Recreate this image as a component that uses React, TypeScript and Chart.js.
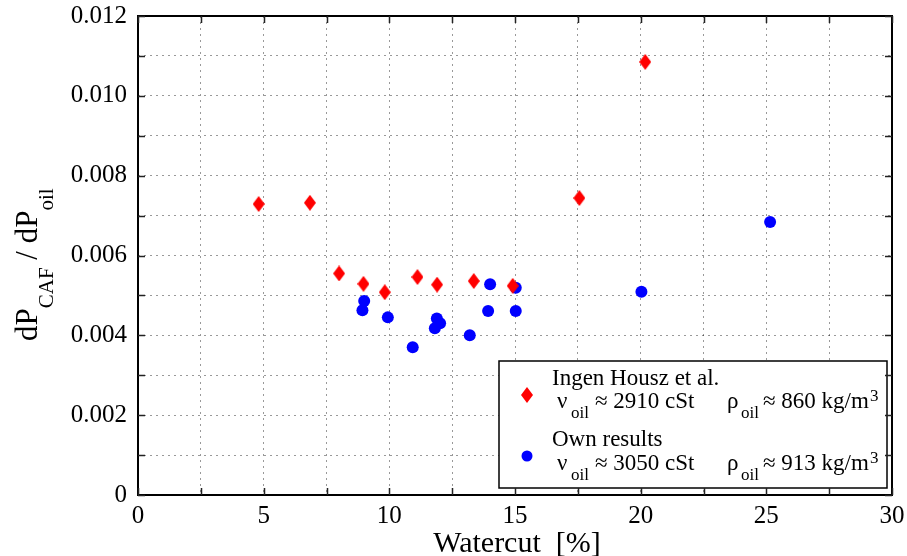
import React, { useEffect, useRef } from 'react';
import { Chart, registerables } from 'chart.js';

Chart.register(...registerables);

// ---- Data ----
const ingenWatercut = [4.8, 6.84, 8.0, 8.97, 9.82, 11.12, 11.9, 13.36, 14.91, 17.56, 20.18];
const ingenRatio = [0.00729, 0.00732, 0.00555, 0.00529, 0.00508, 0.00546, 0.00527, 0.00536, 0.00524, 0.00744, 0.01085];

const ownWatercut = [8.93, 9.0, 9.94, 10.93, 11.81, 11.89, 12.02, 13.2, 13.93, 14.01, 15.03, 15.03, 20.03, 25.15];
const ownRatio = [0.00463, 0.00486, 0.00445, 0.0037, 0.00418, 0.00442, 0.0043, 0.004, 0.00461, 0.00528, 0.00461, 0.00519, 0.00509, 0.00684];

const xTickValues = [0, 5, 10, 15, 20, 25, 30];
const xTickLabels = ['0', '5', '10', '15', '20', '25', '30'];
const yTickValues = [0, 0.002, 0.004, 0.006, 0.008, 0.01, 0.012];
const yTickLabels = ['0', '0.002', '0.004', '0.006', '0.008', '0.010', '0.012'];

const legendTitles = ['Ingen Housz et al.', 'Own results'];
const legendNu = ['2910', '3050'];
const legendRho = ['860', '913'];

const FONT = "'Liberation Serif', 'Times New Roman', serif";
const RED = '#ff0000';
const BLUE = '#0000ff';

function makeDiamond(w: number, h: number, color: string): HTMLCanvasElement {
  const c = document.createElement('canvas');
  c.width = w;
  c.height = h;
  const ctx = c.getContext('2d')!;
  ctx.fillStyle = color;
  ctx.beginPath();
  ctx.moveTo(w / 2, 0);
  ctx.lineTo(w, h / 2);
  ctx.lineTo(w / 2, h);
  ctx.lineTo(0, h / 2);
  ctx.closePath();
  ctx.fill();
  return c;
}

function drawDiamond(ctx: CanvasRenderingContext2D, cx: number, cy: number, w: number, h: number, color: string) {
  ctx.fillStyle = color;
  ctx.beginPath();
  ctx.moveTo(cx, cy - h / 2);
  ctx.lineTo(cx + w / 2, cy);
  ctx.lineTo(cx, cy + h / 2);
  ctx.lineTo(cx - w / 2, cy);
  ctx.closePath();
  ctx.fill();
}

const decorPlugin = {
  id: 'decor',
  afterDraw(chart: any) {
    const ctx: CanvasRenderingContext2D = chart.ctx;
    const { left, right, top, bottom } = chart.chartArea;
    const xs = chart.scales.x;
    const ys = chart.scales.y;
    ctx.save();

    // Legend box
    const lx = 499, ly = 361, lw = 388, lh = 127;
    ctx.fillStyle = '#ffffff';
    ctx.fillRect(lx, ly, lw, lh);
    ctx.strokeStyle = '#000';
    ctx.lineWidth = 1.5;
    ctx.strokeRect(lx, ly, lw, lh);

    const rows = [
      { title: legendTitles[0], nu: legendNu[0], rho: legendRho[0], yTitle: 385, yLine: 408, marker: 'diamond', my: 395 },
      { title: legendTitles[1], nu: legendNu[1], rho: legendRho[1], yTitle: 446, yLine: 470, marker: 'circle', my: 456 },
    ];
    ctx.textAlign = 'left';
    ctx.textBaseline = 'alphabetic';
    ctx.fillStyle = '#000';
    for (const r of rows) {
      if (r.marker === 'diamond') {
        drawDiamond(ctx, 527, r.my, 12, 16, RED);
      } else {
        ctx.fillStyle = BLUE;
        ctx.beginPath();
        ctx.arc(527, r.my, 5.5, 0, Math.PI * 2);
        ctx.fill();
      }
      ctx.fillStyle = '#000';
      ctx.font = `23px ${FONT}`;
      ctx.fillText(r.title, 552, r.yTitle);
      ctx.fillText('ν', 557, r.yLine);
      ctx.font = `17px ${FONT}`;
      ctx.fillText('oil', 571, r.yLine + 10);
      ctx.font = `23px ${FONT}`;
      ctx.fillText(`≈ ${r.nu} cSt`, 595, r.yLine);
      ctx.fillText('ρ', 727, r.yLine);
      ctx.font = `17px ${FONT}`;
      ctx.fillText('oil', 741, r.yLine + 10);
      ctx.font = `23px ${FONT}`;
      const t = `≈ ${r.rho} kg/m`;
      ctx.fillText(t, 763, r.yLine);
      const tw = ctx.measureText(t).width;
      ctx.font = `17px ${FONT}`;
      ctx.fillText('3', 763 + tw + 1, r.yLine - 7);
    }

    // Frame
    ctx.strokeStyle = '#000';
    ctx.lineWidth = 2;
    ctx.strokeRect(left, top, right - left, bottom - top);

    // Inner ticks on all four sides
    ctx.strokeStyle = '#222';
    ctx.lineWidth = 1.5;
    const tl = 7;
    ctx.beginPath();
    for (const t of xs.ticks) {
      const px = Math.round(xs.getPixelForValue(t.value)) + 0.5;
      ctx.moveTo(px, bottom);
      ctx.lineTo(px, bottom - tl);
      ctx.moveTo(px, top);
      ctx.lineTo(px, top + tl);
    }
    for (const t of ys.ticks) {
      const py = Math.round(ys.getPixelForValue(t.value)) + 0.5;
      ctx.moveTo(left, py);
      ctx.lineTo(left + tl, py);
      ctx.moveTo(right, py);
      ctx.lineTo(right - tl, py);
    }
    ctx.stroke();

    // X title
    ctx.fillStyle = '#000';
    ctx.font = `30px ${FONT}`;
    ctx.textAlign = 'center';
    ctx.fillText('Watercut  [%]', (left + right) / 2 + 2, 552);

    // Y title (rotated, with subscripts)
    ctx.save();
    ctx.translate(37, 341);
    ctx.rotate(-Math.PI / 2);
    ctx.textAlign = 'left';
    let x = 0;
    const seg = (text: string, size: number, dy: number) => {
      ctx.font = `${size}px ${FONT}`;
      ctx.fillText(text, x, dy);
      x += ctx.measureText(text).width;
    };
    seg('dP', 31, 0);
    seg('CAF', 21, 16);
    seg(' / dP', 31, 0);
    seg('oil', 21, 16);
    ctx.restore();

    ctx.restore();
  },
};

export default function App() {
  const ref = useRef<HTMLCanvasElement | null>(null);

  useEffect(() => {
    document.body.style.margin = '0';
    const canvas = ref.current!;
    const diamond = makeDiamond(12, 16, RED);
    const chart = new Chart(canvas, {
      type: 'scatter',
      data: {
        datasets: [
          {
            label: legendTitles[0],
            data: ingenWatercut.map((x, i) => ({ x, y: ingenRatio[i] })),
            pointStyle: diamond as any,
            pointRadius: 8,
            backgroundColor: RED,
            borderColor: RED,
          },
          {
            label: legendTitles[1],
            data: ownWatercut.map((x, i) => ({ x, y: ownRatio[i] })),
            pointStyle: 'circle',
            pointRadius: 6,
            borderWidth: 0,
            backgroundColor: BLUE,
            borderColor: BLUE,
          },
        ],
      },
      options: {
        animation: false,
        responsive: false,
        maintainAspectRatio: false,
        layout: { padding: { top: 16, right: 15, left: 0, bottom: 0 } },
        plugins: {
          legend: { display: false },
          tooltip: { enabled: false },
        },
        scales: {
          x: {
            type: 'linear',
            min: 0,
            max: 30,
            ticks: {
              stepSize: 2.5,
              autoSkip: false,
              maxRotation: 0,
              padding: 6,
              color: '#000',
              font: { family: FONT, size: 25 },
              callback: (v: any) => {
                const idx = xTickValues.findIndex((t) => Math.abs(t - Number(v)) < 1e-9);
                return idx >= 0 ? xTickLabels[idx] : '';
              },
            },
            grid: { color: 'rgba(0,0,0,0.4)', lineWidth: 1, drawTicks: false },
            border: { display: false, dash: [2, 4] },
            afterFit: (s: any) => {
              s.height = 61;
              s.paddingLeft = 0;
              s.paddingRight = 0;
            },
          },
          y: {
            type: 'linear',
            min: 0,
            max: 0.012,
            ticks: {
              stepSize: 0.001,
              autoSkip: false,
              padding: 11,
              color: '#000',
              font: { family: FONT, size: 25 },
              callback: (v: any) => {
                const idx = yTickValues.findIndex((t) => Math.abs(t - Number(v)) < 1e-9);
                return idx >= 0 ? yTickLabels[idx] : '';
              },
            },
            grid: { color: 'rgba(0,0,0,0.4)', lineWidth: 1, drawTicks: false },
            border: { display: false, dash: [2, 4] },
            afterFit: (s: any) => {
              s.width = 138;
              s.paddingTop = 0;
              s.paddingBottom = 0;
            },
          },
        },
      },
      plugins: [decorPlugin],
    });
    return () => chart.destroy();
  }, []);

  return (
    <div style={{ position: 'fixed', left: 0, top: 0, width: 907, height: 556, background: '#fff' }}>
      <canvas ref={ref} width={907} height={556} style={{ display: 'block', width: 907, height: 556 }} />
    </div>
  );
}
